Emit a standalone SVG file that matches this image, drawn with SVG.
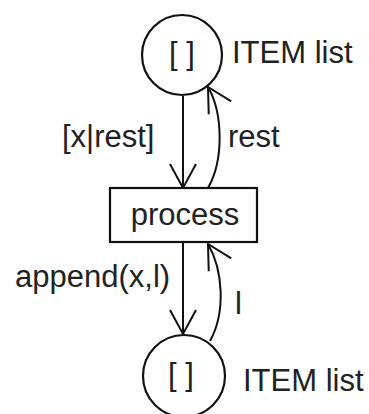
<svg xmlns="http://www.w3.org/2000/svg" width="369" height="414" viewBox="0 0 369 414">
<style>
text{font-family:"Liberation Sans",Arial,sans-serif;font-size:31px;fill:#222}
.n{fill:#fff;stroke:#111;stroke-width:2.2}
.e{fill:none;stroke:#111;stroke-width:2}
</style>
<defs>
<marker id="a" markerUnits="userSpaceOnUse" markerWidth="34" markerHeight="34" viewBox="-31 -17 34 34" refX="0" refY="0" orient="auto">
<path d="M-24,-13 L0,0 L-24,13" fill="none" stroke="#111" stroke-width="2"/>
</marker>
</defs>
<rect width="369" height="414" fill="#fff"/>
<g id="edges">
<line class="e" x1="183" y1="96" x2="183" y2="188" marker-end="url(#a)"/>
<path class="e" d="M208,188 C224,160 223,113 208,87" marker-end="url(#a)"/>
<line class="e" x1="183" y1="243" x2="183" y2="334" marker-end="url(#a)"/>
<path class="e" d="M210,341 C226,312 223,270 208,244" marker-end="url(#a)"/>
<text x="62" y="147">[x|rest]</text>
<text x="228" y="147">rest</text>
<text x="15" y="287">append(x,l)</text>
<text x="235" y="314">l</text>
</g>
<g id="top">
<circle class="n" cx="182" cy="55" r="40"/>
<text x="182" y="64" text-anchor="middle">[ ]</text>
<text x="232" y="63">ITEM list</text>
</g>
<g id="process">
<rect class="n" x="110" y="188" width="147" height="54"/>
<text x="185" y="225" text-anchor="middle">process</text>
</g>
<g id="bottom">
<circle class="n" cx="184" cy="376" r="41"/>
<text x="181" y="385" text-anchor="middle">[ ]</text>
<text x="243" y="391">ITEM list</text>
</g>
</svg>
